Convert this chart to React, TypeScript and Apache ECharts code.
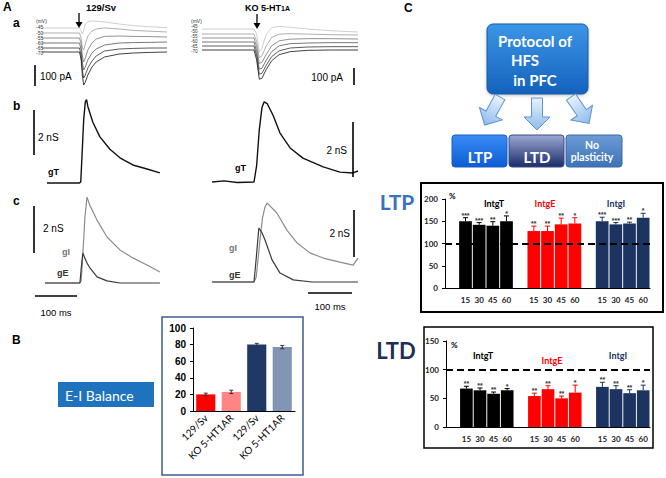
import React, { useEffect, useRef } from "react";
import * as echarts from "echarts";

// ---------------- Panel A data ----------------
const mvLabels = ["-45", "-50", "-55", "-60", "-65", "-70"];

// a) membrane currents (pA) for the six holding potentials, 129/Sv
const tA_L = [0, 90, 94, 97, 100, 104, 110, 120, 130, 150, 185, 220, 260, 300];
const iA_L_m45 = [120, 120, 105, 90, 110, 140, 152, 155, 154, 150, 140, 132, 126, 122];
const iA_L_m50 = [95, 95, 70, 20, 10, 40, 80, 105, 115, 120, 115, 108, 104, 100];
const iA_L_m55 = [70, 70, 40, -20, -50, -30, 10, 45, 65, 78, 80, 78, 77, 75];
const iA_L_m60 = [45, 45, 10, -55, -90, -75, -40, -5, 15, 35, 45, 47, 48, 50];
const iA_L_m65 = [20, 20, -20, -90, -130, -115, -80, -45, -20, 5, 15, 18, 20, 20];
const iA_L_m70 = [0, 0, -40, -120, -165, -150, -115, -75, -50, -25, -10, -5, -2, 0];

// a) KO 5-HT1A
const tA_R = [0, 118, 124, 130, 136, 145, 158, 175, 200, 240, 290, 354];
const iA_R_m45 = [126, 126, 95, -10, 10, 90, 135, 142, 136, 126, 116, 108];
const iA_R_m50 = [96, 96, 50, -45, -35, 20, 75, 95, 98, 95, 92, 90];
const iA_R_m55 = [72, 72, 20, -80, -75, -30, 25, 55, 65, 68, 68, 66];
const iA_R_m60 = [48, 48, -10, -115, -110, -65, -10, 25, 38, 42, 44, 44];
const iA_R_m65 = [24, 24, -35, -145, -140, -95, -40, -5, 12, 18, 20, 20];
const iA_R_m70 = [0, 0, -60, -175, -170, -120, -65, -28, -10, -2, 0, 0];

// b) total conductance gT (nS)
const tB_L = [12, 90, 93, 96, 100, 104, 107, 110, 122, 139, 163, 187, 218, 252, 283];
const gT_L = [0, 0, 0.05, 1.2, 2.8, 3.6, 3.7, 3.4, 2.7, 2.05, 1.5, 1.12, 0.8, 0.62, 0.45];
const tB_R = [23, 50, 80, 118, 124, 130, 136, 141, 148, 161, 177, 200, 229, 275, 313, 343, 354];
const gT_R = [0, 0.04, -0.02, 0, 0.6, 1.9, 2.7, 2.92, 2.85, 2.44, 1.78, 1.24, 0.87, 0.55, 0.36, 0.33, 0.4];

// c) inhibitory (gI) and excitatory (gE) conductances (nS)
const tC_L = [7, 91, 94, 98, 103, 108, 115, 132, 156, 187, 218, 252, 283];
const gI_L = [0, 0, 0.1, 1.2, 2.8, 3.66, 3.3, 2.68, 1.96, 1.41, 1.07, 0.77, 0.47];
const gE_L = [0, 0, 0.6, 1.28, 1.05, 0.85, 0.64, 0.26, 0.09, 0, 0, 0, 0];
const tCI_R = [23, 118, 123, 130, 137, 143, 148, 170, 193, 216, 245, 275, 313, 343, 354];
const gI_R = [0, 0, 0.2, 1.5, 2.7, 3.2, 3.36, 2.94, 2.2, 1.66, 1.24, 1.02, 0.85, 0.72, 1.02];
const tCE_R = [23, 118, 123, 129, 136, 143, 159, 177, 207, 250, 354];
const gE_R = [0, 0, 1.0, 2.3, 2.1, 1.79, 0.94, 0.38, 0.09, 0, 0];

// ---------------- Panel B data ----------------
const eiCategories = ["129/Sv", "KO 5-HT1AR", "129/Sv", "KO 5-HT1AR"];
const eiValues = [20, 23, 80, 77];
const eiErrors = [1.5, 2, 1.5, 2];
const eiTicks = [0, 20, 40, 60, 80, 100];

// ---------------- Panel C data ----------------
const timeTicks = ["15", "30", "45", "60"];
const groupNames = ["IntgT", "IntgE", "IntgI"];

const ltpIntgT = [150, 142, 140, 150];
const ltpIntgTErr = [8, 5, 9, 12];
const ltpIntgE = [128, 128, 143, 145];
const ltpIntgEErr = [11, 11, 14, 13];
const ltpIntgI = [150, 143, 145, 158];
const ltpIntgIErr = [9, 4, 3, 10];
const ltpStarsT = ["***", "***", "**", "*"];
const ltpStarsE = ["**", "**", "**", "*"];
const ltpStarsI = ["***", "***", "**", "*"];

const ltdIntgT = [67, 64, 58, 64];
const ltdIntgTErr = [4, 4, 3, 3];
const ltdIntgE = [54, 66, 50, 60];
const ltdIntgEErr = [5, 6, 4, 13];
const ltdIntgI = [70, 66, 59, 64];
const ltdIntgIErr = [8, 6, 6, 9];
const ltdStarsT = ["**", "**", "**", "*"];
const ltdStarsE = ["**", "**", "**", "*"];
const ltdStarsI = ["**", "**", "**", "*"];

const baseline = 100;

// ---------------- styles ----------------
const SANS = '"Liberation Sans", Arial, sans-serif';
const NARROW = '"Liberation Sans Narrow", "Liberation Sans", Arial, sans-serif';
const CAL = 'Lato, "Open Sans", sans-serif';
const traceGrays = ["#c4c4c4", "#9a9a9a", "#767676", "#555555", "#333333", "#111111"];
const groupColors = ["#000000", "#ff0000", "#1c3461"];
const eiColors = ["#ff0000", "#ff8585", "#1f3864", "#8395b5"];

const zip = (t: number[], v: number[]) => t.map((x, i) => [x, v[i]]);

function T(text: string, x: number, y: number, font: string, fill = "#000", align = "left", valign = "middle") {
  return {
    type: "text",
    x,
    y,
    z: 10,
    style: { text, font, fill, align, verticalAlign: valign, textAlign: align, textVerticalAlign: valign },
  };
}
function L(x1: number, y1: number, x2: number, y2: number, stroke = "#000", lw = 1.5) {
  return { type: "line", z: 10, shape: { x1, y1, x2, y2 }, style: { stroke, lineWidth: lw } };
}
function downArrow(x: number, y1: number, y2: number) {
  return [
    L(x, y1, x, y2 - 4, "#000", 1.3),
    { type: "polygon", z: 10, shape: { points: [[x - 3.5, y2 - 6], [x + 3.5, y2 - 6], [x, y2]] }, style: { fill: "#000" } },
  ];
}
function blockArrow(x: number, y: number, rotation: number) {
  return {
    type: "polygon",
    x,
    y,
    rotation,
    z: 5,
    shape: { points: [[-5.5, 0], [5.5, 0], [5.5, 19], [13, 19], [0, 32], [-13, 19], [-5.5, 19]] },
    style: {
      fill: new echarts.graphic.LinearGradient(0, 0, 0, 1, [
        { offset: 0, color: "#e9f2fc" },
        { offset: 1, color: "#8dbbec" },
      ]),
      stroke: "#5b93d3",
      lineWidth: 1,
    },
  };
}
function gradBox(x: number, y: number, w: number, h: number, c0: string, c1: string, stroke: string, r = 3) {
  return {
    type: "rect",
    z: 5,
    shape: { x, y, width: w, height: h, r },
    style: {
      fill: new echarts.graphic.LinearGradient(0, 0, 0, 1, [
        { offset: 0, color: c0 },
        { offset: 1, color: c1 },
      ]),
      stroke,
      lineWidth: 1,
    },
  };
}

// category layout for the LTP / LTD bar charts: a gap slot before each group
function buildCats() {
  const cats: string[] = [];
  for (let g = 0; g < 3; g++) {
    cats.push("");
    timeTicks.forEach((t) => cats.push(t));
  }
  return cats;
}
function buildBars(groups: number[][]) {
  const data: any[] = [];
  groups.forEach((vals, g) => {
    data.push("-");
    vals.forEach((v) => data.push({ value: v, itemStyle: { color: groupColors[g] } }));
  });
  return data;
}
function errSeries(vals: number[], errs: number[], stars: string[], g: number, axis: number) {
  const offset = g * 5 + 1;
  const color = groupColors[g];
  return {
    type: "custom",
    xAxisIndex: axis,
    yAxisIndex: axis,
    z: 4,
    encode: { x: 0, y: 1 },
    data: vals.map((v, i) => [offset + i, v, errs[i]]),
    renderItem: (params: any, api: any) => {
      const i = api.value(0);
      const v = api.value(1);
      const e = api.value(2);
      const base = api.coord([i, v]);
      const top = api.coord([i, v + e]);
      return {
        type: "group",
        children: [
          { type: "line", shape: { x1: base[0], y1: base[1], x2: top[0], y2: top[1] }, style: { stroke: color, lineWidth: 1 } },
          { type: "line", shape: { x1: top[0] - 2.5, y1: top[1], x2: top[0] + 2.5, y2: top[1] }, style: { stroke: color, lineWidth: 1 } },
          {
            type: "text",
            x: top[0],
            y: top[1] + 1,
            style: {
              text: stars[params.dataIndex],
              font: `bold 7px ${SANS}`,
              fill: "#333",
              align: "center",
              verticalAlign: "bottom",
              textAlign: "center",
              textVerticalAlign: "bottom",
            },
          },
        ],
      };
    },
  };
}

function buildOption(): any {
  const hiddenX = (max: number, idx: number) => ({ type: "value", gridIndex: idx, min: 0, max, show: false });
  const hiddenY = (min: number, max: number, idx: number) => ({ type: "value", gridIndex: idx, min, max, show: false });
  const trace = (data: number[][], axis: number, color: string, width: number) => ({
    type: "line",
    xAxisIndex: axis,
    yAxisIndex: axis,
    data,
    showSymbol: false,
    symbol: "none",
    silent: true,
    lineStyle: { color, width },
    z: 3,
  });

  const aLeft = [iA_L_m45, iA_L_m50, iA_L_m55, iA_L_m60, iA_L_m65, iA_L_m70];
  const aRight = [iA_R_m45, iA_R_m50, iA_R_m55, iA_R_m60, iA_R_m65, iA_R_m70];

  const cats = buildCats();
  const barAxisLabel = { fontSize: 8, fontWeight: "bold", color: "#222", fontFamily: CAL, interval: 0, margin: 8, hideOverlap: false };
  const valueAxisCommon = {
    axisLine: { show: true, lineStyle: { color: "#000", width: 1 } },
    axisTick: { show: true, length: 3, lineStyle: { color: "#000" } },
    splitLine: { show: false },
  };
  const dashed = {
    silent: true,
    symbol: "none",
    label: { show: false },
    lineStyle: { type: [7, 4], color: "#000", width: 1.8 },
    data: [{ yAxis: baseline }],
  };

  const grids = [
    { left: 42, top: 15, width: 125, height: 80 },
    { left: 202, top: 15, width: 156, height: 80 },
    { left: 42, top: 95, width: 125, height: 95 },
    { left: 202, top: 95, width: 156, height: 95 },
    { left: 42, top: 190, width: 125, height: 100 },
    { left: 202, top: 190, width: 156, height: 100 },
    { left: 193, top: 328, width: 102, height: 83 },
    { left: 445, top: 199, width: 205, height: 89 },
    { left: 446, top: 341, width: 204, height: 86 },
  ].map((g) => ({ ...g, containLabel: false, outerBoundsMode: "none" }));

  const mvYLeft = [27, 33, 38, 43, 48, 53];
  const mvYRight = [26, 31, 36, 41, 46, 51];

  const graphics: any[] = [
    // panel letters
    T("A", 3, 7, `bold 12px ${SANS}`),
    T("a", 13, 23, `bold 12px ${SANS}`),
    T("b", 13, 106, `bold 12px ${SANS}`),
    T("c", 13, 201, `bold 12px ${SANS}`),
    T("B", 12, 340, `bold 12px ${SANS}`),
    T("C", 404, 8, `bold 12px ${SANS}`),

    // titles and stimulus arrows
    T("129/Sv", 86, 7, `bold 9.5px ${NARROW}`),
    ...downArrow(79, 13, 28),
    {
      type: "text",
      x: 245,
      y: 8,
      z: 10,
      style: {
        text: "{a|KO 5-HT}{b|1A}",
        verticalAlign: "middle",
        textVerticalAlign: "middle",
        rich: {
          a: { font: `bold 9px ${SANS}`, fill: "#000", color: "#000" },
          b: { font: `bold 7px ${SANS}`, fill: "#000", color: "#000" },
        },
      },
    },
    ...downArrow(257, 14, 29),

    // mV labels
    T("(mV)", 36, 21, `5px ${SANS}`, "#333"),
    ...mvLabels.map((m, i) => T(m, 36, mvYLeft[i], `5px ${SANS}`, "#333")),
    T("(mV)", 191, 21, `5px ${SANS}`, "#333"),
    ...mvLabels.map((m, i) => T(m, 191, mvYRight[i], `4.6px ${SANS}`, "#333")),

    // scale bars
    L(35, 65, 35, 86, "#000", 1.6),
    T("100 pA", 40, 76, `10px ${SANS}`),
    L(354, 68, 354, 85, "#000", 1.6),
    T("100 pA", 343, 77, `10px ${SANS}`, "#000", "right"),
    L(34, 110, 34, 155, "#000", 1.6),
    T("2 nS", 38, 137, `10px ${SANS}`),
    L(353, 122, 353, 177, "#000", 1.6),
    T("2 nS", 347, 150, `10px ${SANS}`, "#000", "right"),
    L(34, 206, 34, 253, "#000", 1.6),
    T("2 nS", 43, 228, `10px ${SANS}`),
    L(354, 210, 354, 257, "#000", 1.6),
    T("2 nS", 350, 233, `10px ${SANS}`, "#000", "right"),
    L(35, 296, 77, 296, "#000", 1.6),
    T("100 ms", 56, 312, `9.5px ${SANS}`, "#000", "center"),
    L(308, 293, 352, 293, "#000", 1.6),
    T("100 ms", 330, 306, `9.5px ${SANS}`, "#000", "center"),

    // trace labels
    T("gT", 48, 172, `bold 9px ${SANS}`),
    T("gT", 235, 168, `bold 9px ${SANS}`),
    T("gI", 62, 252, `bold 9px ${SANS}`, "#777"),
    T("gE", 57, 273, `bold 9px ${SANS}`, "#333"),
    T("gI", 229, 248, `bold 9px ${SANS}`, "#777"),
    T("gE", 229, 275, `bold 9px ${SANS}`, "#333"),

    // panel B decorations
    { type: "rect", z: 5, shape: { x: 58, y: 382, width: 96, height: 25 }, style: { fill: "#1f73be" } },
    T("E-I Balance", 65, 395, `14px ${CAL}`, "#ffffff"),
    { type: "rect", z: 1, shape: { x: 162, y: 317, width: 141, height: 158 }, style: { fill: "none", stroke: "#3d5c8c", lineWidth: 1.5 } },

    // panel C protocol diagram
    {
      type: "rect",
      z: 5,
      shape: { x: 487, y: 24, width: 101, height: 70, r: 6 },
      style: {
        fill: new echarts.graphic.LinearGradient(0, 0, 0, 1, [
          { offset: 0, color: "#3c95e6" },
          { offset: 1, color: "#1462bd" },
        ]),
        stroke: "#1b5aa5",
        lineWidth: 1,
        shadowBlur: 3,
        shadowColor: "rgba(0,0,0,0.25)",
        shadowOffsetY: 1,
      },
    },
    T("Protocol of", 535, 41, `bold 15px ${CAL}`, "#fff", "center"),
    T("HFS", 525, 60, `bold 15px ${CAL}`, "#fff", "center"),
    T("in PFC", 535, 80, `bold 15px ${CAL}`, "#fff", "center"),
    blockArrow(500, 97, -0.5),
    blockArrow(537, 98, 0),
    blockArrow(571, 97, 0.6),
    gradBox(452, 135, 55, 32, "#3a8cf4", "#0c5bd6", "#1d5fc2"),
    gradBox(509, 135, 55, 32, "#9aa8d2", "#1b2c68", "#3b4d8a"),
    gradBox(566, 135, 56, 32, "#6d9bd5", "#3d72b7", "#3b6aa8"),
    T("LTP", 480, 157, `bold 15px ${CAL}`, "#fff", "center"),
    T("LTD", 537, 157, `bold 15px ${CAL}`, "#fff", "center"),
    T("No", 592, 145, `bold 10.5px ${CAL}`, "#fff", "center"),
    T("plasticity", 592, 157, `bold 10.5px ${CAL}`, "#fff", "center"),

    // LTP / LTD panels
    T("LTP", 397, 201, `bold 21px ${CAL}`, "#3a72c0", "center"),
    T("LTD", 396, 350, `bold 22px ${CAL}`, "#1e2d5a", "center"),
    { type: "rect", z: 1, shape: { x: 421, y: 183, width: 242, height: 129 }, style: { fill: "none", stroke: "#000", lineWidth: 2 } },
    { type: "rect", z: 1, shape: { x: 424, y: 327, width: 229, height: 121 }, style: { fill: "none", stroke: "#000", lineWidth: 1.5 } },
    T("%", 449, 196, `bold 8px ${CAL}`),
    T("%", 451, 345, `bold 8px ${CAL}`),
    T(groupNames[0], 494, 203, `bold 9px ${CAL}`, groupColors[0], "center"),
    T(groupNames[1], 545, 203, `bold 9px ${CAL}`, groupColors[1], "center"),
    T(groupNames[2], 616, 203, `bold 9px ${CAL}`, groupColors[2], "center"),
    T(groupNames[0], 483, 355, `bold 9px ${CAL}`, groupColors[0], "center"),
    T(groupNames[1], 552, 360, `bold 9px ${CAL}`, groupColors[1], "center"),
    T(groupNames[2], 618, 355, `bold 9px ${CAL}`, groupColors[2], "center"),
  ];

  const series: any[] = [];
  aLeft.forEach((v, k) => series.push(trace(zip(tA_L, v), 0, traceGrays[k], 0.8)));
  aRight.forEach((v, k) => series.push(trace(zip(tA_R, v), 1, traceGrays[k], 0.8)));
  series.push(trace(zip(tB_L, gT_L), 2, "#111", 1.4));
  series.push(trace(zip(tB_R, gT_R), 3, "#111", 1.4));
  series.push(trace(zip(tC_L, gI_L), 4, "#8c8c8c", 1.2));
  series.push(trace(zip(tC_L, gE_L), 4, "#3a3a3a", 1.2));
  series.push(trace(zip(tCI_R, gI_R), 5, "#8c8c8c", 1.2));
  series.push(trace(zip(tCE_R, gE_R), 5, "#3a3a3a", 1.2));

  // panel B bars
  series.push({
    type: "bar",
    xAxisIndex: 6,
    yAxisIndex: 6,
    barCategoryGap: "25%",
    data: eiValues.map((v, i) => ({ value: v, itemStyle: { color: eiColors[i] } })),
    z: 2,
  });
  series.push({
    type: "custom",
    xAxisIndex: 6,
    yAxisIndex: 6,
    z: 4,
    encode: { x: 0, y: 1 },
    data: eiValues.map((v, i) => [i, v, eiErrors[i]]),
    renderItem: (params: any, api: any) => {
      const i = api.value(0);
      const v = api.value(1);
      const e = api.value(2);
      const top = api.coord([i, v + e]);
      const bot = api.coord([i, v - e]);
      const st = { stroke: "#333", lineWidth: 1 };
      return {
        type: "group",
        children: [
          { type: "line", shape: { x1: top[0], y1: bot[1], x2: top[0], y2: top[1] }, style: st },
          { type: "line", shape: { x1: top[0] - 2, y1: top[1], x2: top[0] + 2, y2: top[1] }, style: st },
          { type: "line", shape: { x1: top[0] - 2, y1: bot[1], x2: top[0] + 2, y2: bot[1] }, style: st },
        ],
      };
    },
  });

  // LTP
  series.push({
    type: "bar",
    xAxisIndex: 7,
    yAxisIndex: 7,
    barCategoryGap: "7%",
    data: buildBars([ltpIntgT, ltpIntgE, ltpIntgI]),
    markLine: dashed,
    z: 2,
  });
  series.push(errSeries(ltpIntgT, ltpIntgTErr, ltpStarsT, 0, 7));
  series.push(errSeries(ltpIntgE, ltpIntgEErr, ltpStarsE, 1, 7));
  series.push(errSeries(ltpIntgI, ltpIntgIErr, ltpStarsI, 2, 7));

  // LTD
  series.push({
    type: "bar",
    xAxisIndex: 8,
    yAxisIndex: 8,
    barCategoryGap: "7%",
    data: buildBars([ltdIntgT, ltdIntgE, ltdIntgI]),
    markLine: dashed,
    z: 2,
  });
  series.push(errSeries(ltdIntgT, ltdIntgTErr, ltdStarsT, 0, 8));
  series.push(errSeries(ltdIntgE, ltdIntgEErr, ltdStarsE, 1, 8));
  series.push(errSeries(ltdIntgI, ltdIntgIErr, ltdStarsI, 2, 8));

  return {
    animation: false,
    backgroundColor: "#ffffff",
    textStyle: { fontFamily: SANS },
    grid: grids,
    xAxis: [
      hiddenX(300, 0),
      hiddenX(354, 1),
      hiddenX(300, 2),
      hiddenX(354, 3),
      hiddenX(300, 4),
      hiddenX(354, 5),
      {
        type: "category",
        gridIndex: 6,
        data: eiCategories,
        axisLine: { lineStyle: { color: "#000", width: 1 } },
        axisTick: { show: false },
        axisLabel: { rotate: 45, fontSize: 10, color: "#000", fontFamily: CAL, interval: 0, margin: 5, hideOverlap: false },
      },
      {
        type: "category",
        gridIndex: 7,
        data: cats,
        axisLine: { lineStyle: { color: "#000", width: 1 } },
        axisTick: { show: false },
        axisLabel: barAxisLabel,
      },
      {
        type: "category",
        gridIndex: 8,
        data: cats,
        axisLine: { lineStyle: { color: "#000", width: 1 } },
        axisTick: { show: false },
        axisLabel: barAxisLabel,
      },
    ],
    yAxis: [
      hiddenY(-215, 185, 0),
      hiddenY(-270, 210, 1),
      hiddenY(-0.311, 3.907, 2),
      hiddenY(-0.291, 3.167, 3),
      hiddenY(-0.298, 3.962, 4),
      hiddenY(-0.341, 3.919, 5),
      {
        type: "value",
        gridIndex: 6,
        min: eiTicks[0],
        max: eiTicks[eiTicks.length - 1],
        interval: 20,
        ...valueAxisCommon,
        axisLabel: { fontSize: 10, fontWeight: "bold", color: "#000", fontFamily: SANS, margin: 7 },
      },
      {
        type: "value",
        gridIndex: 7,
        min: 0,
        max: 200,
        interval: 50,
        ...valueAxisCommon,
        axisLabel: { fontSize: 8, fontWeight: "bold", color: "#222", fontFamily: CAL, margin: 7 },
      },
      {
        type: "value",
        gridIndex: 8,
        min: 0,
        max: 150,
        interval: 50,
        ...valueAxisCommon,
        axisLabel: { fontSize: 8, fontWeight: "bold", color: "#222", fontFamily: CAL, margin: 7 },
      },
    ],
    graphic: { elements: graphics },
    series,
  };
}

export default function App() {
  const ref = useRef<HTMLDivElement>(null);
  useEffect(() => {
    if (!ref.current) return;
    const chart = echarts.init(ref.current, null, { renderer: "svg" });
    chart.setOption(buildOption());
    return () => chart.dispose();
  }, []);
  return (
    <div
      ref={ref}
      style={{ position: "absolute", left: 0, top: 0, width: 666, height: 478, background: "#fff" }}
    />
  );
}
